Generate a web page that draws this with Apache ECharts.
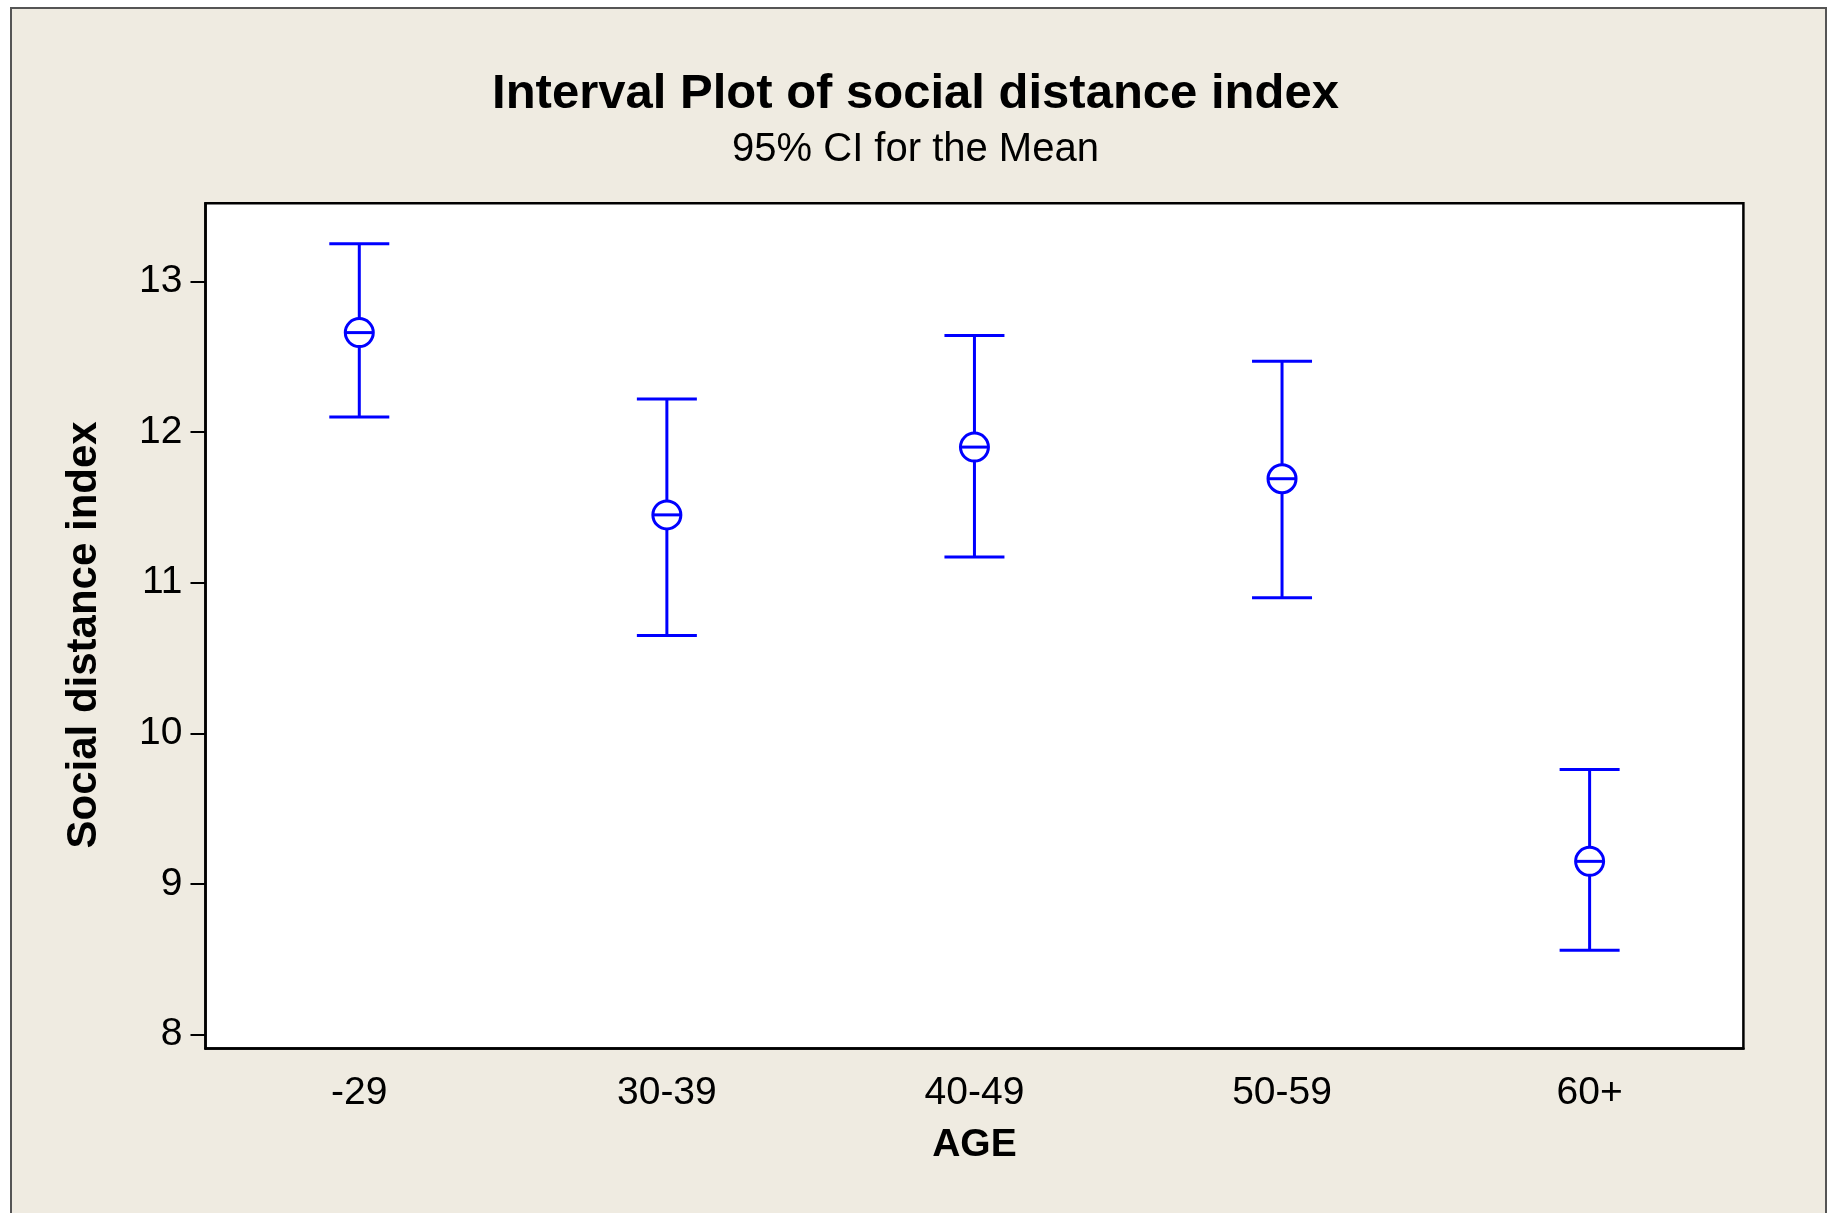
<!DOCTYPE html>
<html>
<head>
<meta charset="utf-8">
<script src="https://cdn.jsdelivr.net/npm/echarts@6/dist/echarts.min.js"></script>
<style>
html,body{margin:0;padding:0;background:#ffffff;}
#chart{width:1831px;height:1213px;}
</style>
</head>
<body>
<div id="chart"></div>
<script>
const categories = ['-29', '30-39', '40-49', '50-59', '60+'];
const means  = [12.66, 11.45, 11.90, 11.69, 9.15];
const lowers = [12.10, 10.65, 11.17, 10.90, 8.56];
const uppers = [13.25, 12.22, 12.64, 12.47, 9.76];
const yTicks = [8, 9, 10, 11, 12, 13];

const seriesData = categories.map((c, i) => [i, lowers[i], means[i], uppers[i]]);

const BLUE = '#0000ff';
const FONT = 'Liberation Sans, Arial, sans-serif';

function renderItem(params, api) {
  const x = api.value(0);
  const pLow = api.coord([x, api.value(1)]);
  const pMean = api.coord([x, api.value(2)]);
  const pUp = api.coord([x, api.value(3)]);
  const hw = 30, r = 14;
  const ls = { stroke: BLUE, lineWidth: 3 };
  return {
    type: 'group',
    children: [
      { type: 'line', shape: { x1: pUp[0], y1: pUp[1], x2: pLow[0], y2: pLow[1] }, style: ls },
      { type: 'line', shape: { x1: pUp[0] - hw, y1: pUp[1], x2: pUp[0] + hw, y2: pUp[1] }, style: ls },
      { type: 'line', shape: { x1: pLow[0] - hw, y1: pLow[1], x2: pLow[0] + hw, y2: pLow[1] }, style: ls },
      { type: 'circle', shape: { cx: pMean[0], cy: pMean[1], r: r }, style: { fill: '#ffffff', stroke: BLUE, lineWidth: 3 } },
      { type: 'line', shape: { x1: pMean[0] - r, y1: pMean[1], x2: pMean[0] + r, y2: pMean[1] }, style: ls }
    ]
  };
}

const chart = echarts.init(document.getElementById('chart'), null, { renderer: 'canvas' });
chart.setOption({
  backgroundColor: '#ffffff',
  animation: false,
  graphic: [{
    type: 'rect', z: -10, silent: true,
    shape: { x: 11, y: 8, width: 1815, height: 1300 },
    style: { fill: '#efebe1', stroke: '#555555', lineWidth: 2 }
  }],
  title: {
    text: 'Interval Plot of social distance index',
    subtext: '95% CI for the Mean',
    left: 'center',
    top: 65,
    itemGap: 11,
    textStyle: { fontFamily: FONT, fontSize: 49, fontWeight: 'bold', color: '#000' },
    subtextStyle: { fontFamily: FONT, fontSize: 40, color: '#000' }
  },
  grid: {
    left: 205.5, right: 87.6, top: 203.2, bottom: 164.4,
    show: true, backgroundColor: '#ffffff', borderColor: '#000', borderWidth: 2.5
  },
  xAxis: {
    type: 'category',
    data: categories,
    boundaryGap: true,
    name: 'AGE',
    nameLocation: 'middle',
    nameGap: 77,
    nameTextStyle: { fontFamily: FONT, fontSize: 39, fontWeight: 'bold', color: '#000' },
    axisLine: { lineStyle: { color: '#000', width: 2.5 } },
    axisTick: { alignWithLabel: true, length: 15, lineStyle: { color: '#000', width: 2 } },
    axisLabel: { fontFamily: FONT, fontSize: 39, color: '#000', margin: 25 },
    splitLine: { show: false }
  },
  yAxis: {
    type: 'value',
    min: 7.907,
    max: 13.519,
    name: 'Social distance index',
    nameLocation: 'middle',
    nameGap: 100,
    nameTextStyle: { fontFamily: FONT, fontSize: 42, fontWeight: 'bold', color: '#000', padding: [0, 18, 0, 0] },
    axisLine: { show: true, lineStyle: { color: '#000', width: 2.5 } },
    axisTick: { show: true, length: 15, customValues: yTicks, lineStyle: { color: '#000', width: 2 } },
    axisLabel: { fontFamily: FONT, fontSize: 39, color: '#000', margin: 23, customValues: yTicks,
      formatter: v => String(Math.round(v)) },
    splitLine: { show: false }
  },
  series: [{
    type: 'custom',
    renderItem: renderItem,
    data: seriesData,
    encode: { x: 0, y: [1, 2, 3] },
    clip: false
  }]
});
</script>
</body>
</html>
